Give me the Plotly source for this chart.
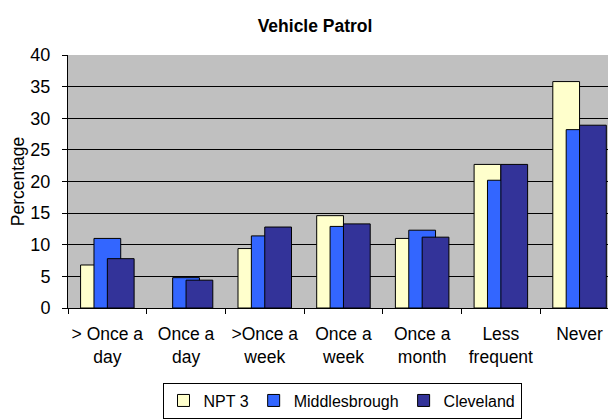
import plotly.graph_objects as go

# patrol frequency categories and percentages per area
categories = ["> Once a<br>day", "Once a<br>day", ">Once a<br>week", "Once a<br>week",
              "Once a<br>month", "Less<br>frequent", "Never"]
npt3 = [6.8, None, 9.4, 14.6, 11.0, 22.7, 35.8]
middlesbrough = [11.0, 4.8, 11.4, 12.9, 12.3, 20.2, 28.2]
cleveland = [7.8, 4.4, 12.8, 13.3, 11.2, 22.7, 28.9]

series = [
    ("NPT 3", npt3, "#FFFFCC", -0.34),
    ("Middlesbrough", middlesbrough, "#3366FF", -0.17),
    ("Cleveland", cleveland, "#333399", 0.0),
]

fig = go.Figure()
for name, vals, colour, off in series:
    fig.add_trace(go.Bar(
        x=categories,
        y=vals,
        name=name,
        width=0.34,
        offset=off,
        marker=dict(color=colour, line=dict(color="black", width=1)),
    ))

# page body has an 8px margin, so the figure is sized to fit the window
fig.update_layout(
    width=608,
    height=412,
    barmode="overlay",
    paper_bgcolor="white",
    plot_bgcolor="#C0C0C0",
    margin=dict(l=60, r=0, t=47, b=112, autoexpand=False),
    font=dict(family="Liberation Sans, Arial, sans-serif", size=18, color="black"),
    title=dict(text="<b>Vehicle Patrol</b>", x=0.505, xref="container", xanchor="center",
               y=0.956, yref="container", yanchor="middle", font=dict(size=17.5)),
    showlegend=True,
    legend=dict(
        orientation="h",
        x=0.5, xanchor="center",
        y=-0.437, yanchor="bottom",
        bordercolor="black", borderwidth=1,
        bgcolor="white",
        font=dict(size=16),
        itemwidth=30,
        tracegroupgap=0,
        traceorder="normal",
    ),
)

fig.update_xaxes(
    range=[-0.5, 6.463],
    showline=True, linecolor="black", linewidth=1,
    ticks="outside", tickson="boundaries", ticklen=5, tickcolor="black",
    showgrid=False,
    tickangle=0,
    tickfont=dict(size=17.5),
    ticklabelstandoff=10,
    automargin=False,
)
fig.update_yaxes(
    range=[0, 40],
    dtick=5,
    showline=True, linecolor="black", linewidth=1,
    ticks="outside", ticklen=5, tickcolor="black",
    gridcolor="black", gridwidth=1,
    zeroline=False,
    ticklabelstandoff=8,
    automargin=False,
    title=dict(text="Percentage", standoff=6, font=dict(size=17.5)),
)

fig.write_html("out.html")
